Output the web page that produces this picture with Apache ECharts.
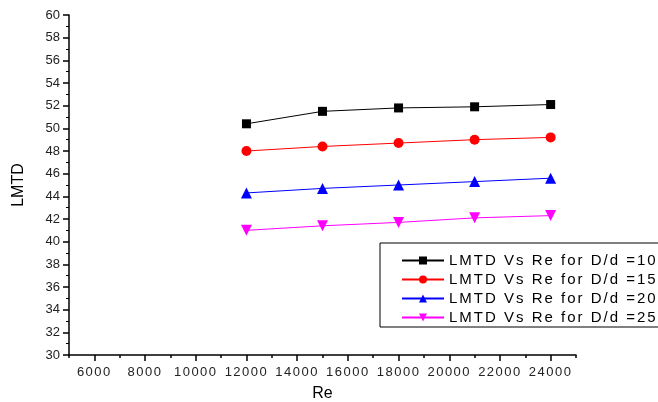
<!DOCTYPE html>
<html>
<head>
<meta charset="utf-8">
<script src="https://cdn.jsdelivr.net/npm/echarts@6/dist/echarts.min.js"></script>
<style>html,body{margin:0;padding:0;background:#fff}#c{width:658px;height:402px}</style>
</head>
<body>
<div id="c"></div>
<script>
var reValues = [12000, 15000, 18000, 21000, 24000];
var seriesNames = ['LMTD Vs Re for D/d =10', 'LMTD Vs Re for D/d =15', 'LMTD Vs Re for D/d =20', 'LMTD Vs Re for D/d =25'];
var lmtd10 = [50.4, 51.5, 51.8, 51.9, 52.1];
var lmtd15 = [48.0, 48.4, 48.7, 49.0, 49.2];
var lmtd20 = [44.3, 44.7, 45.0, 45.3, 45.6];
var lmtd25 = [41.0, 41.4, 41.7, 42.1, 42.3];
var xMajorTicks = [6000, 8000, 10000, 12000, 14000, 16000, 18000, 20000, 22000, 24000];

// letter spacing helper: font family lists carrying a "spNN" marker get NN/10 px spacing
(function () {
  var P = CanvasRenderingContext2D.prototype;
  var orig = P.fillText;
  P.fillText = function (t, x, y, m) {
    if ('letterSpacing' in this) {
      var mm = /sp(\d+)/.exec(this.font);
      this.letterSpacing = mm ? (parseInt(mm[1], 10) / 10) + 'px' : '0px';
    }
    return m === undefined ? orig.call(this, t, x, y) : orig.call(this, t, x, y, m);
  };
})();

var colors = ['#000000', '#ff0000', '#0000ff', '#ff00ff'];
var symbols = ['rect', 'circle', 'triangle', 'path://M0,0 L10,0 L5,9 Z'];
var sizes = [9, 10, 11, 11];
var datasets = [lmtd10, lmtd15, lmtd20, lmtd25];

function pairs(arr) { return reValues.map(function (x, i) { return [x, arr[i]]; }); }

var chart = echarts.init(document.getElementById('c'), null, {renderer: 'canvas'});
var font = 'Arial, "Liberation Sans", sans-serif';
chart.setOption({
  animation: false,
  backgroundColor: '#ffffff',
  grid: {left: 69, top: 15, right: 82, bottom: 47, containLabel: false, outerBoundsMode: 'none'},
  legend: {
    orient: 'vertical',
    left: 380, top: 243,
    padding: [10, 60, 2, 21],
    itemGap: 4,
    itemWidth: 42, itemHeight: 10,
    borderColor: '#000', borderWidth: 1,
    textStyle: {fontFamily: 'Arial, sp20, sans-serif', fontSize: 15, lineHeight: 15, color: '#000'},
    data: seriesNames
  },
  xAxis: [{
    type: 'value', min: 5000, max: 25000, interval: 1000,
    position: 'bottom',
    name: 'Re', nameLocation: 'middle', nameGap: 31,
    nameTextStyle: {fontFamily: font, fontSize: 16, color: '#000'},
    axisLine: {show: true, lineStyle: {color: '#000', width: 1.5}},
    axisTick: {show: true, inside: false, length: 3, lineStyle: {color: '#000', width: 1.5}},
    axisLabel: {customValues: xMajorTicks, formatter: function (v) { return String(v); },
      fontFamily: 'Arial, sp15, sans-serif', fontSize: 13, color: '#222', margin: 11},
    splitLine: {show: false}
  }, {
    type: 'value', min: 5000, max: 25000, interval: 1000,
    position: 'bottom',
    axisLine: {show: false},
    axisTick: {show: true, inside: false, length: 6, customValues: xMajorTicks, lineStyle: {color: '#000', width: 1.5}},
    axisLabel: {show: false},
    splitLine: {show: false}
  }],
  yAxis: {
    type: 'value', min: 30, max: 60, interval: 2,
    name: 'LMTD', nameLocation: 'middle', nameGap: 42,
    nameTextStyle: {fontFamily: font, fontSize: 16, color: '#000'},
    axisLine: {show: true, lineStyle: {color: '#000', width: 1.5}},
    axisTick: {show: true, inside: false, length: 6, lineStyle: {color: '#000', width: 1.5}},
    minorTick: {show: true, splitNumber: 2, length: 3, lineStyle: {color: '#000', width: 1}},
    axisLabel: {fontFamily: font, fontSize: 13, color: '#222', margin: 9},
    splitLine: {show: false}
  },
  series: datasets.map(function (d, i) {
    return {
      name: seriesNames[i], type: 'line', xAxisIndex: 0,
      data: pairs(d),
      symbol: symbols[i], symbolSize: sizes[i],
      itemStyle: {color: colors[i]},
      lineStyle: {color: colors[i], width: 1}
    };
  })
});
</script>
</body>
</html>
